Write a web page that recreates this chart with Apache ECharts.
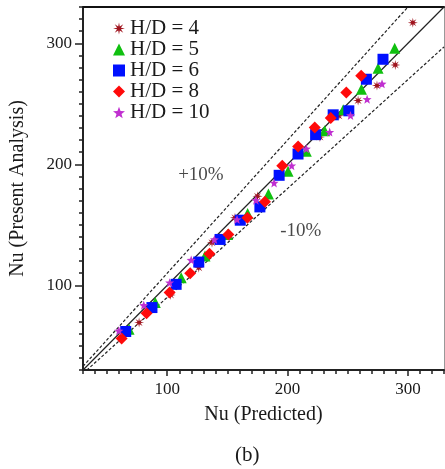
<!DOCTYPE html>
<html>
<head>
<meta charset="utf-8">
<script src="https://cdn.jsdelivr.net/npm/echarts@6/dist/echarts.min.js"></script>
<style>
html,body{margin:0;padding:0;background:#fff;}
#chart{width:445px;height:469px;}
</style>
</head>
<body>
<div id="chart"></div>
<script>
// ---- data (Nu predicted, Nu present analysis) ----
const seriesNames = ['H/D = 4', 'H/D = 5', 'H/D = 6', 'H/D = 8', 'H/D = 10'];
const hd4 = [[304.1,317.0],[289.5,282.1],[274.3,265.1],[258.6,252.7],[242.6,240.1],[226.9,222.5],[175.0,173.6],[156.3,155.8],[137.2,135.2],[126.2,114.6],[102.8,92.0],[76.6,69.2]];
const hd5 = [[289.0,295.9],[275.2,279.4],[261.4,262.1],[246.2,245.1],[230.8,227.7],[215.6,210.7],[200.4,194.2],[184.1,175.5],[166.8,159.3],[150.2,142.0],[131.4,124.2],[111.6,106.3],[90.1,85.7],[68.3,63.7]];
const hd6 = [[279.3,286.8],[265.5,270.3],[250.9,244.2],[237.9,240.9],[223.3,224.5],[208.7,208.5],[193.0,190.9],[177.0,164.8],[160.7,153.8],[143.9,137.9],[126.2,119.2],[107.4,100.8],[87.3,81.6],[65.5,61.8]];
const hd8 = [[261.2,273.1],[248.8,259.3],[235.9,238.2],[222.6,230.5],[208.8,214.8],[195.6,198.9],[181.2,169.0],[166.6,155.8],[150.8,142.0],[135.1,126.1],[119.1,109.9],[102.0,94.0],[82.8,76.9],[62.1,56.0]];
const hd10 = [[278.5,266.5],[266.1,253.8],[252.3,240.4],[235.0,226.6],[215.6,212.9],[203.4,198.9],[188.8,184.6],[173.7,170.3],[158.0,154.4],[139.2,137.9],[119.9,120.9],[102.0,102.2],[80.5,83.5],[59.8,62.4]];
// reference lines (endpoints)
const lineExact = [[30,30],[330,330]];
const linePlus10 = [[30,33],[300,330]];
const lineMinus10 = [[30,27],[330,297]];
const tickValues = [100,200,300];
const bandLabels = [{text:'+10%', pos:[128,191]},{text:'-10%', pos:[211,144.5]}];

const FONT = '"Liberation Serif", "DejaVu Serif", serif';

function starPath(n, rIn) {
  let d = '';
  for (let i = 0; i < 2*n; i++) {
    const r = (i % 2 === 0) ? 1 : rIn;
    const a = -Math.PI/2 + i*Math.PI/n;
    const x = (r*Math.cos(a)).toFixed(3), y = (r*Math.sin(a)).toFixed(3);
    d += (i === 0 ? 'M' : 'L') + x + ' ' + y + ' ';
  }
  return 'path://' + d + 'Z';
}
const asteriskSym = starPath(8, 0.35);
const starSym = starPath(5, 0.42);

const chart = echarts.init(document.getElementById('chart'), null, {renderer:'canvas'});

const axisText = {fontFamily: FONT, fontSize: 17, color: '#1a1a1a'};

function scatter(name, data, symbol, size, color) {
  return {
    name, type: 'scatter', data, symbol, symbolSize: size,
    itemStyle: {color, opacity: 1},
    xAxisIndex: 0, yAxisIndex: 0, z: 3
  };
}
function refLine(data, type, width) {
  return {
    type: 'line', data, showSymbol: false, symbol: 'none', silent: true,
    lineStyle: {color: '#222', width, type}, xAxisIndex: 0, yAxisIndex: 0, z: 2
  };
}

chart.setOption({
  animation: false,
  backgroundColor: '#fff',
  title: {text: '(b)', left: 230, top: 440, textStyle: {fontFamily: FONT, fontSize: 21, fontWeight: 'normal', color: '#1a1a1a'}},
  grid: {left: 83, right: 1, top: 7, bottom: 99, containLabel: false},
  legend: {
    data: seriesNames, orient: 'vertical', left: 108, top: 13, itemGap: 0,
    itemWidth: 12, itemHeight: 12,
    textStyle: {fontFamily: FONT, fontSize: 21, lineHeight: 19, color: '#1a1a1a'}
  },
  xAxis: [
    {type: 'value', min: 30, max: 330, position: 'bottom',
     name: 'Nu (Predicted)', nameLocation: 'middle', nameGap: 35,
     nameTextStyle: {fontFamily: FONT, fontSize: 20, color: '#1a1a1a'},
     axisLine: {show: true, onZero: false, lineStyle: {color: '#222', width: 2}},
     axisTick: {show: true, customValues: tickValues, length: 6, lineStyle: {color: '#222', width: 1.5}},
     axisLabel: {customValues: tickValues, margin: 11, ...axisText},
     splitLine: {show: false}},
    {type: 'value', min: 30, max: 330, interval: 10, position: 'bottom',
     axisLine: {show: false}, axisTick: {show: true, length: 4, lineStyle: {color: '#222', width: 1.5}},
     axisLabel: {show: false}, splitLine: {show: false}},
    {type: 'value', min: 30, max: 330, position: 'top',
     axisLine: {show: true, onZero: false, lineStyle: {color: '#111', width: 2}},
     axisTick: {show: false}, axisLabel: {show: false}, splitLine: {show: false}}
  ],
  yAxis: [
    {type: 'value', min: 30, max: 330, position: 'left',
     name: 'Nu (Present Analysis)', nameLocation: 'middle', nameGap: 55,
     nameTextStyle: {fontFamily: FONT, fontSize: 20, color: '#1a1a1a'},
     axisLine: {show: true, onZero: false, lineStyle: {color: '#222', width: 2}},
     axisTick: {show: true, customValues: tickValues, length: 8, lineStyle: {color: '#222', width: 1.5}},
     axisLabel: {customValues: tickValues, margin: 11, ...axisText},
     splitLine: {show: false}},
    {type: 'value', min: 30, max: 330, interval: 10, position: 'left',
     axisLine: {show: false}, axisTick: {show: true, length: 4, lineStyle: {color: '#222', width: 1.5}},
     axisLabel: {show: false}, splitLine: {show: false}},
    {type: 'value', min: 30, max: 330, position: 'right',
     axisLine: {show: true, onZero: false, lineStyle: {color: '#999', width: 1}},
     axisTick: {show: false}, axisLabel: {show: false}, splitLine: {show: false}}
  ],
  series: [
    refLine(lineExact, 'solid', 1.2),
    refLine(linePlus10, [3, 2], 1.2),
    refLine(lineMinus10, [3, 2], 1.2),
    scatter(seriesNames[0], hd4, asteriskSym, 10, '#a0141e'),
    scatter(seriesNames[1], hd5, 'triangle', 11, '#10c010'),
    scatter(seriesNames[2], hd6, 'rect', 11, '#0010ff'),
    scatter(seriesNames[3], hd8, 'diamond', 12, '#ff0a0a'),
    scatter(seriesNames[4], hd10, starSym, 9, '#c030d0'),
    {
      type: 'scatter', silent: true, symbolSize: 0, xAxisIndex: 0, yAxisIndex: 0,
      data: bandLabels.map(b => ({value: b.pos, label: {formatter: b.text}})),
      label: {show: true, position: 'inside', fontFamily: FONT, fontSize: 19, color: '#1a1a1a'}
    }
  ]
});
</script>
</body>
</html>
